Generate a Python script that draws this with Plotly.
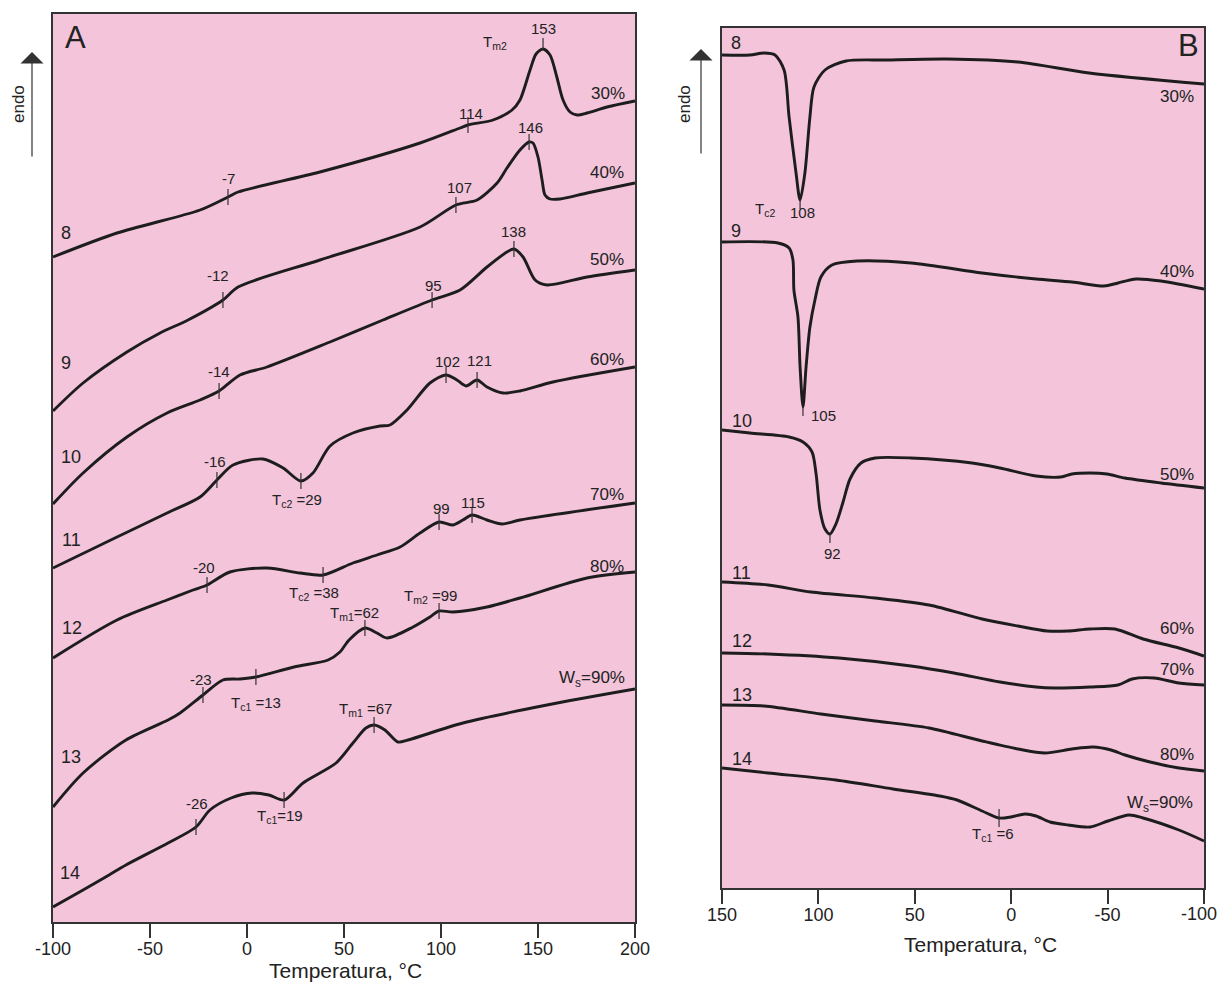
import numpy as np
import plotly.graph_objects as go

# ---------------- data: panel A (heating, T in °C, arbitrary heat-flow units) ----------------
a8_T = [-100, -67.0, -24.2, -9.8, -4.6, 37.6, 89.2, 109.8, 113.9, 126.8, 136.6, 140.7, 145.9, 149.0, 152.6, 156.2, 159.7, 162.9, 166.5, 170.1, 175.3, 185.6, 200]
a8_y = [665, 689, 712, 725, 730, 750, 779, 794, 797, 802, 812, 822, 852, 868, 873, 867, 845, 822, 810, 807, 809, 815, 821]

a9_T = [-100, -84.5, -61.9, -44.8, -30.4, -12.4, -4.6, 37.6, 89.2, 107.7, 118.6, 128.9, 134.0, 140.7, 145.4, 147.4, 150.0, 152.1, 153.6, 156.2, 161.3, 175.3, 200]
a9_y = [511, 539, 570, 589, 602, 622, 635, 662, 695, 717, 722, 739, 754, 772, 780, 779, 765, 742, 727, 723, 723, 729, 739]

a10_T = [-100, -84.5, -61.9, -41.2, -24.2, -14.4, -3.6, 10.3, 42.8, 70.1, 95.4, 109.8, 123.7, 134.0, 137.6, 142.3, 148.5, 154.6, 175.3, 200]
a10_y = [418, 449, 485, 509, 522, 531, 547, 555, 580, 602, 622, 632, 655, 670, 673, 665, 642, 637, 645, 652]

a11_T = [-100, -67.0, -41.2, -24.2, -15.5, -7.2, 8.2, 18.6, 27.8, 34.0, 42.8, 54.6, 68.6, 73.7, 82.5, 94.3, 102.6, 108.2, 112.9, 118.6, 123.7, 132.0, 140.7, 157.7, 200]
a11_y = [354, 385, 409, 425, 442, 457, 463, 454, 441, 449, 476, 489, 496, 497, 512, 539, 547, 542, 536, 542, 535, 529, 531, 540, 555]

a12_T = [-100, -67.0, -41.2, -27.8, -20.6, -8.8, 10.3, 27.3, 39.2, 54.6, 67.0, 78.9, 89.2, 99.0, 106.2, 111.3, 116.0, 123.7, 131.4, 140.7, 200]
a12_y = [264, 302, 322, 332, 337, 350, 354, 349, 347, 359, 367, 375, 389, 400, 397, 402, 407, 402, 398, 402, 419]

a13_T = [-100, -84.5, -62.4, -40.7, -34.5, -22.7, -12.4, -3.6, 4.6, 24.2, 41.8, 47.9, 52.6, 60.8, 67.0, 72.2, 85.6, 94.3, 99.0, 106.2, 123.7, 140.7, 175.3, 200]
a13_y = [115, 149, 182, 202, 209, 227, 242, 243, 245, 255, 262, 270, 282, 294, 289, 284, 295, 305, 311, 310, 315, 324, 344, 350]

a14_T = [-100, -84.5, -71.1, -62.4, -40.7, -26.3, -19.1, -8.2, 2.6, 11.3, 19.1, 28.9, 45.9, 54.6, 61.3, 65.5, 71.1, 77.8, 83.0, 111.3, 154.6, 200]
a14_y = [15, 32, 47, 57, 79, 95, 112, 124, 129, 127, 122, 139, 159, 179, 194, 197, 192, 180, 182, 199, 217, 233]

# ---------------- data: panel B (cooling) ----------------
b8_T = [150, 135.5, 128.2, 122.5, 117.8, 115.2, 111.6, 109.5, 107.0, 104.4, 102.3, 96.6, 85.7, 64.9, 33.3, -3.5, -40.4, -100]
b8_y = [833, 833, 835, 833, 818, 771, 715, 688, 715, 771, 801, 818, 827, 828, 829, 826, 815, 804]

b9_T = [150, 121.0, 115.2, 113.2, 112.7, 110.6, 109.5, 108.0, 106.4, 104.4, 101.8, 98.7, 93.0, 80.0, 52.0, 15.1, -12.9, -31.5, -48.1, -55.4, -64.7, -77.7, -100]
b9_y = [646, 645, 640, 628, 598, 571, 521, 481, 521, 561, 588, 611, 623, 627, 625, 615, 609, 606, 602, 605, 609, 607, 599]

b10_T = [150, 135.5, 115.2, 108.0, 103.3, 101.2, 99.2, 96.6, 94.0, 90.9, 87.2, 83.6, 77.9, 70.6, 52.0, 20.3, 5.8, -12.9, -25.8, -31.5, -40.9, -49.7, -59.0, -77.7, -100]
b10_y = [458, 455, 451, 446, 436, 414, 378, 359, 354, 364, 386, 409, 425, 430, 430, 425, 420, 412, 411, 414, 415, 414, 410, 405, 400]

b11_T = [150, 126.1, 103.8, 70.6, 42.6, 15.1, -3.5, -18.6, -29.5, -40.9, -53.8, -68.4, -87.0, -100]
b11_y = [306, 303, 296, 290, 283, 269, 262, 257, 257, 259, 259, 249, 240, 232]

b12_T = [150, 126.1, 89.3, 52.0, 29.7, 5.8, -12.9, -22.2, -40.9, -55.4, -62.7, -74.1, -87.0, -100]
b12_y = [235, 234, 230, 222, 215, 206, 201, 200, 201, 203, 209, 210, 205, 203]

b13_T = [150, 128.2, 98.7, 70.6, 42.6, 15.1, -3.5, -17.5, -31.5, -42.4, -51.8, -59.0, -72.0, -87.0, -100]
b13_y = [183, 182, 174, 167, 160, 147, 139, 135, 139, 141, 138, 133, 126, 120, 117]

b14_T = [150, 126.1, 90.9, 61.3, 37.1, 28.1, 15.1, 6.3, 0.1, -7.2, -12.9, -20.1, -29.5, -40.9, -50.2, -61.1, -68.4, -87.0, -100]
b14_y = [120, 115, 108, 99, 92, 88, 77, 70, 71, 74, 72, 66, 63, 61, 67, 73, 70, 58, 47]

# characteristic-temperature tick marks (sample id, temperature)
tickA_id = [8, 8, 8, 9, 9, 9, 10, 10, 10, 11, 11, 11, 11, 12, 12, 12, 12, 13, 13, 13, 13, 14, 14, 14]
tickA_T = [-9.8, 113.9, 152.6, -12.4, 107.7, 145.4, -14.4, 95.4, 137.6, -15.5, 27.8, 102.6, 118.6,
           -20.6, 39.2, 99.0, 116.0, -22.7, 4.6, 60.8, 99.0, -26.3, 19.1, 65.5]
tickB_id = [8, 9, 10, 14]
tickB_T = [109.5, 108.0, 94.0, 6.3]

xticksA = [-100, -50, 0, 50, 100, 150, 200]
xticksB = [150, 100, 50, 0, -50, -100]

# ---------------- layout constants ----------------
W, H = 1220, 982
FONT = "Liberation Sans, Arial, Helvetica, sans-serif"
INK = "#1d1d1d"
AX = "#333333"
BG = "#F3C4DA"
A_L, A_R, A_TOP, A_BOT = 53, 635, 14, 922
B_L, B_R, B_TOP, B_BOT = 722, 1204, 28, 888

curvesA = {8: (a8_T, a8_y), 9: (a9_T, a9_y), 10: (a10_T, a10_y), 11: (a11_T, a11_y),
           12: (a12_T, a12_y), 13: (a13_T, a13_y), 14: (a14_T, a14_y)}
curvesB = {8: (b8_T, b8_y), 9: (b9_T, b9_y), 10: (b10_T, b10_y), 11: (b11_T, b11_y),
           12: (b12_T, b12_y), 13: (b13_T, b13_y), 14: (b14_T, b14_y)}

fig = go.Figure()

for k, (t, y) in curvesA.items():
    fig.add_trace(go.Scatter(x=t, y=y, mode="lines", xaxis="x", yaxis="y",
                             line=dict(color=INK, width=2.9, shape="spline", smoothing=0.8),
                             hoverinfo="skip", showlegend=False))
for k, (t, y) in curvesB.items():
    fig.add_trace(go.Scatter(x=t, y=y, mode="lines", xaxis="x2", yaxis="y2",
                             line=dict(color=INK, width=2.9, shape="spline", smoothing=0.8),
                             hoverinfo="skip", showlegend=False))


def curve_at(curves, cid, T):
    t, y = curves[cid]
    t = np.asarray(t, float)
    y = np.asarray(y, float)
    order = np.argsort(t)
    return float(np.interp(T, t[order], y[order]))


# tick marks on curves
tx, ty = [], []
for i, (cid, T) in enumerate(zip(tickA_id, tickA_T)):
    yc = curve_at(curvesA, cid, T)
    lo, hi = (-8, 8)
    if i == 2:
        lo, hi = (0, 11)
    tx += [T, T, None]
    ty += [yc + lo, yc + hi, None]
fig.add_trace(go.Scatter(x=tx, y=ty, mode="lines", xaxis="x", yaxis="y",
                         line=dict(color=AX, width=1.2), hoverinfo="skip", showlegend=False))

tx, ty = [], []
for i, (cid, T) in enumerate(zip(tickB_id, tickB_T)):
    yc = curve_at(curvesB, cid, T)
    lo, hi = (-9, 0) if i < 3 else (-9, 9)
    tx += [T, T, None]
    ty += [yc + lo, yc + hi, None]
fig.add_trace(go.Scatter(x=tx, y=ty, mode="lines", xaxis="x2", yaxis="y2",
                         line=dict(color=AX, width=1.2), hoverinfo="skip", showlegend=False))


def pxx(x):
    return x / W


def pxy(y):
    return 1 - y / H


ann = []


def lab(text, x, y, size=15, xanchor="center", **kw):
    d = dict(text=text, x=pxx(x), y=pxy(y), xref="paper", yref="paper", showarrow=False,
             xanchor=xanchor, yanchor="middle", font=dict(family=FONT, size=size, color="#222"))
    d.update(kw)
    ann.append(d)


# panel letters
lab("A", 75, 38, size=31)
lab("B", 1188, 46, size=31)

# sample numbers
for txt, x, y in [("8", 66, 233), ("9", 66, 363), ("10", 71, 457), ("11", 71, 540),
                  ("12", 72, 628), ("13", 71, 757), ("14", 70, 873)]:
    lab(txt, x, y, size=18)
for txt, x, y in [("8", 736, 43), ("9", 736, 231), ("10", 742, 421), ("11", 741, 573),
                  ("12", 742, 641), ("13", 742, 695), ("14", 742, 759)]:
    lab(txt, x, y, size=18)

# water contents
for txt, x, y in [("30%", 608, 93), ("40%", 607, 173), ("50%", 607, 259), ("60%", 607, 359),
                  ("70%", 607, 494), ("80%", 607, 566), ("W<sub>s</sub>=90%", 592, 679)]:
    lab(txt, x, y, size=17)
for txt, x, y in [("30%", 1177, 97), ("40%", 1177, 271), ("50%", 1177, 474), ("60%", 1177, 628),
                  ("70%", 1177, 669), ("80%", 1177, 754), ("W<sub>s</sub>=90%", 1160, 804)]:
    lab(txt, x, y, size=17)

# temperature labels, panel A
for txt, x, y in [("-7", 228, 178), ("114", 471, 114), ("153", 543, 29), ("T<sub>m2</sub>", 495, 42),
                  ("146", 530, 127), ("107", 460, 188), ("-12", 218, 275), ("138", 513, 232),
                  ("95", 433, 285), ("-14", 219, 371), ("102", 447, 361), ("121", 479, 360),
                  ("-16", 215, 461), ("T<sub>c2</sub> =29", 297, 500), ("99", 441, 508),
                  ("115", 473, 502), ("-20", 204, 567), ("T<sub>c2</sub> =38", 314, 593),
                  ("T<sub>m2</sub> =99", 430, 596), ("T<sub>m1</sub>=62", 354, 613),
                  ("-23", 201, 679), ("T<sub>c1</sub> =13", 256, 703), ("T<sub>m1</sub> =67", 365, 709),
                  ("-26", 197, 803), ("T<sub>c1</sub>=19", 280, 816)]:
    lab(txt, x, y, size=15)

# temperature labels, panel B
for txt, x, y in [("T<sub>c2</sub>", 765, 209), ("108", 802, 212), ("105", 823, 415),
                  ("92", 833, 553), ("T<sub>c1</sub> =6", 993, 834)]:
    lab(txt, x, y, size=15)

# last tick label of panel B sits inside the page edge, as in the original
lab("-100", 1219, 914, size=18, xanchor="right")

# axis titles
lab("Temperatura, °C", 345, 970, size=21)
lab("Temperatura, °C", 980, 944, size=21)

# endo arrows
for xa, xt, ytop in [(32, 18, 52), (701, 684, 49)]:
    lab("endo", xt, 104, size=17, textangle=-90)
    ann.append(dict(text="", x=pxx(xa), y=pxy(ytop), xref="paper", yref="paper",
                    ax=0, ay=106, axref="pixel", ayref="pixel", showarrow=True,
                    arrowhead=1, arrowsize=3.2, arrowwidth=1.2, arrowcolor="#333"))

axis_common = dict(showline=True, linecolor=AX, linewidth=1.5, mirror=True, showgrid=False,
                   zeroline=False, fixedrange=True, automargin=False)

fig.update_layout(
    template="none",
    width=W, height=H, margin=dict(l=0, r=0, t=0, b=0, pad=0), autosize=False,
    paper_bgcolor="white", plot_bgcolor=BG, showlegend=False,
    font=dict(family=FONT, color="#222"),
    xaxis=dict(domain=[A_L / W, A_R / W], range=[-100, 200], anchor="y",
               tickvals=xticksA, ticktext=[str(v) for v in xticksA],
               ticks="outside", ticklen=14, tickwidth=1.5, tickcolor=AX, ticklabeloverflow="allow",
               tickfont=dict(family=FONT, size=18, color="#222"), **axis_common),
    yaxis=dict(domain=[1 - A_BOT / H, 1 - A_TOP / H], range=[0, A_BOT - A_TOP], anchor="x",
               showticklabels=False, ticks="", **axis_common),
    xaxis2=dict(domain=[B_L / W, B_R / W], range=[150, -100], anchor="y2",
                tickvals=xticksB, ticktext=[str(v) if v != -100 else "" for v in xticksB],
                ticks="outside", ticklen=14, tickwidth=1.5, tickcolor=AX, ticklabeloverflow="allow",
                tickfont=dict(family=FONT, size=18, color="#222"), **axis_common),
    yaxis2=dict(domain=[1 - B_BOT / H, 1 - B_TOP / H], range=[0, B_BOT - B_TOP], anchor="x2",
                showticklabels=False, ticks="", **axis_common),
    annotations=ann,
)

try:
    fig.update_xaxes(ticklabelstandoff=-4)
except Exception:
    pass

fig.write_html("out.html", config={"displayModeBar": False},
               post_script="document.body.style.margin='0';")
